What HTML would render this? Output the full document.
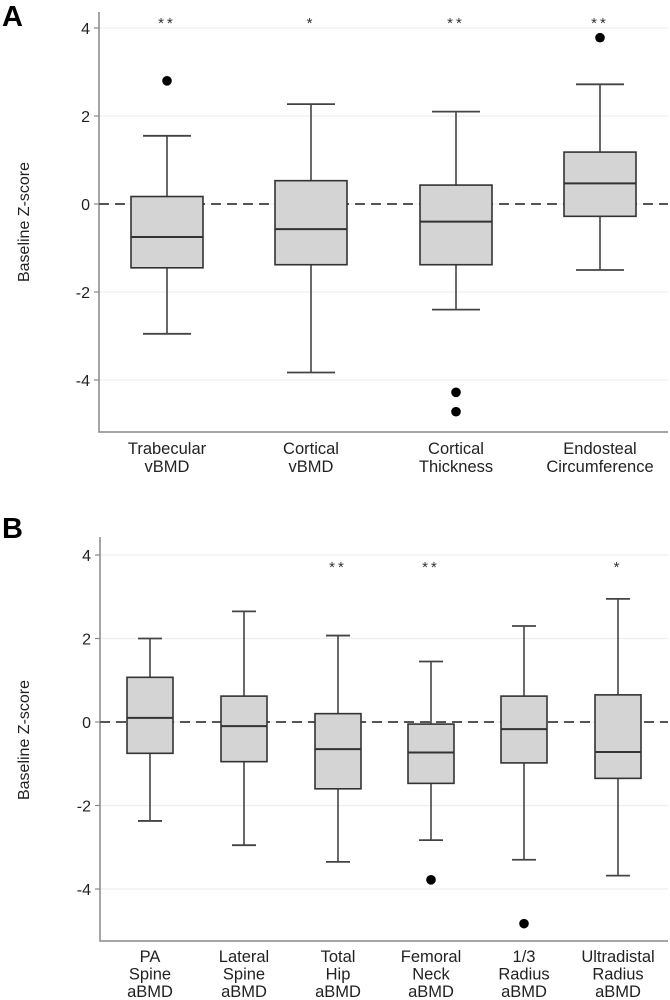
<!DOCTYPE html>
<html><head><meta charset="utf-8"><style>
html,body{margin:0;padding:0;background:#fff;}
svg{display:block;font-family:"Liberation Sans",Arial,sans-serif;}
</style></head><body>
<svg id="chart" width="670" height="1000" viewBox="0 0 670 1000" xmlns="http://www.w3.org/2000/svg">
<text x="2" y="26" font-size="29" font-weight="bold">A</text>
<text x="2" y="538" font-size="29" font-weight="bold">B</text>
<g id="pa"></g>
<g id="pb"></g>
</svg>
<script>
// Panel A data
const catsA = [["Trabecular","vBMD"],["Cortical","vBMD"],["Cortical","Thickness"],["Endosteal","Circumference"]];
const upperA = [1.55, 2.27, 2.1, 2.72];
const q3A = [0.17, 0.53, 0.43, 1.18];
const medA = [-0.75, -0.57, -0.4, 0.47];
const q1A = [-1.45, -1.38, -1.38, -0.28];
const lowerA = [-2.95, -3.83, -2.4, -1.5];
const outA = [[2.8], [], [-4.28, -4.72], [3.78]];
const starsA = ["**", "*", "**", "**"];
// Panel B data
const catsB = [["PA","Spine","aBMD"],["Lateral","Spine","aBMD"],["Total","Hip","aBMD"],["Femoral","Neck","aBMD"],["1/3","Radius","aBMD"],["Ultradistal","Radius","aBMD"]];
const upperB = [2.0, 2.65, 2.07, 1.45, 2.3, 2.95];
const q3B = [1.07, 0.62, 0.2, -0.05, 0.62, 0.65];
const medB = [0.1, -0.1, -0.65, -0.73, -0.17, -0.72];
const q1B = [-0.75, -0.95, -1.6, -1.47, -0.98, -1.35];
const lowerB = [-2.37, -2.95, -3.35, -2.83, -3.3, -3.68];
const outB = [[], [], [], [-3.78], [-4.83], []];
const starsB = ["", "", "**", "**", "", "*"];
const ticks = [4, 2, 0, -2, -4];

const NS = "http://www.w3.org/2000/svg";
function mk(parent, tag, attrs){const e=document.createElementNS(NS,tag);for(const k in attrs)e.setAttribute(k,attrs[k]);parent.appendChild(e);return e;}

function panel(g, cfg){
  const {x0,x1,yTop,yBot,y0,yPer,centers,half,cap,cats,up,q3,med,q1,lo,outs,stars,starY,labelY,labelStep,fs,titleY} = cfg;
  const Y = v => y0 - v*yPer;
  const X = i => centers[i];
  ticks.forEach(t=>{
    const gl = mk(g,"line",{x1:x0,x2:x1,y1:Y(t),y2:Y(t),stroke:"#efefef","stroke-width":1.2});
    
    
    const tk = mk(g,"line",{x1:x0-5,x2:x0,y1:Y(t),y2:Y(t),stroke:"#888","stroke-width":1.2});
    
    
    const tl = mk(g,"text",{x:x0-9,y:Y(t)+6,"text-anchor":"end","font-size":16,fill:"#222"});
    tl.textContent = String(t);
    
    
  });
  const ax = mk(g,"path",{d:`M${x0},${yTop}V${yBot}H${x1}`,fill:"none",stroke:"#888","stroke-width":1.5});
  
  
  const yt = mk(g,"text",{x:0,y:0,transform:`translate(29,${titleY}) rotate(-90)`,"text-anchor":"middle","font-size":16,fill:"#222"});
  yt.textContent = "Baseline Z-score";
  
  
  const zl = mk(g,"line",{x1:x0,x2:x1,y1:Y(0),y2:Y(0),stroke:"#555","stroke-width":2,"stroke-dasharray":"10,6"});
  
  
  cats.forEach((c,i)=>{
    const cx = X(i);
    const bg = mk(g,"g",{});
    
    
    mk(bg,"line",{x1:cx,x2:cx,y1:Y(up[i]),y2:Y(q3[i]),stroke:"#444","stroke-width":1.6});
    mk(bg,"line",{x1:cx,x2:cx,y1:Y(q1[i]),y2:Y(lo[i]),stroke:"#444","stroke-width":1.6});
    mk(bg,"line",{x1:cx-cap,x2:cx+cap,y1:Y(up[i]),y2:Y(up[i]),stroke:"#444","stroke-width":1.8});
    mk(bg,"line",{x1:cx-cap,x2:cx+cap,y1:Y(lo[i]),y2:Y(lo[i]),stroke:"#444","stroke-width":1.8});
    mk(bg,"rect",{x:cx-half,y:Y(q3[i]),width:2*half,height:Y(q1[i])-Y(q3[i]),fill:"#d4d4d4",stroke:"#333","stroke-width":1.6});
    mk(bg,"line",{x1:cx-half,x2:cx+half,y1:Y(med[i]),y2:Y(med[i]),stroke:"#333","stroke-width":2});
    outs[i].forEach(v=>{
      const d = mk(g,"circle",{cx:cx,cy:Y(v),r:4.8,fill:"#000"});
      
      
    });
    if(stars[i]){
      const s = mk(g,"text",{x:cx,y:starY,"text-anchor":"middle","font-size":15,fill:"#333","letter-spacing":"3"});
      s.textContent = stars[i];
      
      
    }
    c.forEach((line,j)=>{
      const t = mk(g,"text",{x:cx,y:labelY+j*labelStep,"text-anchor":"middle","font-size":fs,fill:"#222"});
      t.textContent = line;
      
      
    });
  });
}
panel(document.getElementById("pa"),{x0:99,x1:668,yTop:12,yBot:432,y0:204,yPer:44,centers:[167,311,456,600],half:36,cap:24,
  cats:catsA,up:upperA,q3:q3A,med:medA,q1:q1A,lo:lowerA,outs:outA,stars:starsA,starY:28,labelY:454,labelStep:18,fs:16.5,titleY:222});
panel(document.getElementById("pb"),{x0:100,x1:668,yTop:537,yBot:941,y0:722,yPer:41.75,centers:[150,244,338,431,524,618],half:23,cap:12,
  cats:catsB,up:upperB,q3:q3B,med:medB,q1:q1B,lo:lowerB,outs:outB,stars:starsB,starY:572,labelY:962,labelStep:17.5,fs:16.5,titleY:740});
</script>
</body></html>
